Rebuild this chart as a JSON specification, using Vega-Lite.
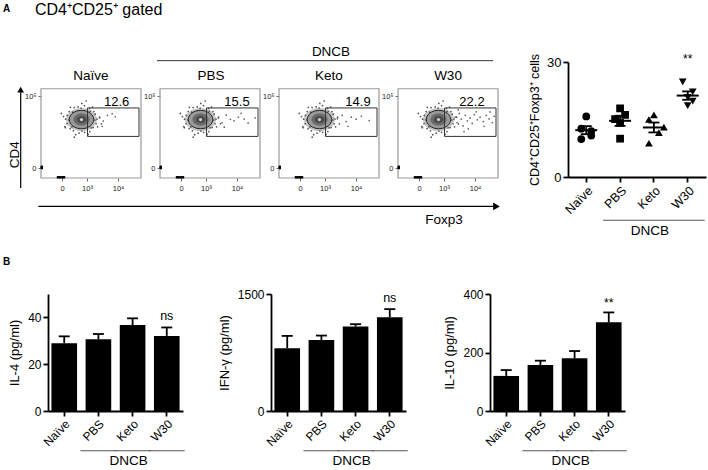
{
"$schema": "https://vega.github.io/schema/vega-lite/v6.json",
"padding": {"left": 3, "top": 2, "right": 2, "bottom": 2},
"background": "white",
"spacing": 232,
"bounds": "flush",
"datasets": {
"frame": [{"x0":0,"x1":100,"y0":0,"y1":100}],
"gatebox": [{"x0":46.5,"x1":98,"y0":46.6,"y1":78.5}],
"center": [{"x":40.5,"y":65.5}],
"cloud": [{"x":56,"y":66},{"x":54.2,"y":71.5},{"x":52.9,"y":74.4},{"x":48.6,"y":78},{"x":43.5,"y":81},{"x":37.2,"y":79.6},{"x":33.1,"y":78.9},{"x":28.2,"y":74.4},{"x":26.3,"y":70.1},{"x":24.6,"y":65.9},{"x":26.1,"y":60.9},{"x":29.1,"y":55.3},{"x":32.4,"y":52.9},{"x":38.1,"y":50.2},{"x":43.6,"y":51.2},{"x":48.9,"y":52.1},{"x":52.1,"y":56.5},{"x":55.1,"y":60.8},{"x":58.6,"y":68.2},{"x":51.6,"y":79.5},{"x":40.8,"y":83.6},{"x":29.3,"y":79.2},{"x":22.5,"y":68.9},{"x":24.4,"y":56.4},{"x":34.7,"y":48.6},{"x":47.1,"y":48.8},{"x":56.6,"y":57.3},{"x":53.9,"y":65},{"x":49.3,"y":74.8},{"x":40.1,"y":78.4},{"x":31.7,"y":73.8},{"x":27.9,"y":65.1},{"x":30.9,"y":57.2},{"x":40.9,"y":52.6},{"x":50.1,"y":56.3},{"x":20.3,"y":72.4},{"x":60.4,"y":60.7},{"x":45.2,"y":86.3},{"x":33.2,"y":45.8},{"x":23.8,"y":57.6}],
"gate": [{"p":"Naïve","x":58.5,"y":67.5},{"p":"Naïve","x":62.3,"y":63.8},{"p":"Naïve","x":66.4,"y":70.2},{"p":"Naïve","x":71.2,"y":72.1},{"p":"Naïve","x":74.3,"y":68.6},{"p":"Naïve","x":61.2,"y":57.9},
{"p":"PBS","x":58.3,"y":67.2},{"p":"PBS","x":62.1,"y":61.8},{"p":"PBS","x":66.2,"y":70.4},{"p":"PBS","x":70.4,"y":65.8},{"p":"PBS","x":74.1,"y":64.1},{"p":"PBS","x":78.3,"y":68.3},{"p":"PBS","x":84.2,"y":66.1},{"p":"PBS","x":88.1,"y":61.7},{"p":"PBS","x":95.2,"y":67.4},{"p":"PBS","x":64.3,"y":56.9},{"p":"PBS","x":81,"y":72.5},
{"p":"Keto","x":58.4,"y":66.3},{"p":"Keto","x":63.2,"y":70.1},{"p":"Keto","x":67.1,"y":63.2},{"p":"Keto","x":72.3,"y":68.2},{"p":"Keto","x":77.2,"y":65.9},{"p":"Keto","x":82.4,"y":69.1},{"p":"Keto","x":90.2,"y":64.3},{"p":"Keto","x":69,"y":58},
{"p":"W30","x":57.2,"y":68.1},{"p":"W30","x":59.1,"y":62.2},{"p":"W30","x":61.3,"y":72.4},{"p":"W30","x":63.2,"y":66.1},{"p":"W30","x":65.1,"y":58.3},{"p":"W30","x":67.3,"y":70.2},{"p":"W30","x":69.4,"y":64.1},{"p":"W30","x":72.1,"y":67.3},{"p":"W30","x":74.2,"y":61.2},{"p":"W30","x":76.3,"y":71.1},{"p":"W30","x":79.2,"y":65.2},{"p":"W30","x":82.1,"y":68.3},{"p":"W30","x":85.3,"y":63.2},{"p":"W30","x":88.2,"y":70.1},{"p":"W30","x":91.1,"y":66.2},{"p":"W30","x":94.3,"y":62.1},{"p":"W30","x":96.2,"y":69.2},{"p":"W30","x":70.3,"y":55.1},{"p":"W30","x":60.2,"y":76.3},{"p":"W30","x":78.1,"y":74.2},{"p":"W30","x":86,"y":58},{"p":"W30","x":92,"y":74},{"p":"W30","x":66,"y":52}],
"pile": [{"x":17,"y":0.8},{"x":19,"y":0.8},{"x":21,"y":0.8},{"x":23,"y":0.8},{"x":0.8,"y":11.2},{"x":0.8,"y":12.5}],
"lines": [{"id":"cd4","x":-20.3,"y":-11.2,"y2":96},{"id":"fox","x":-2.7,"x2":453,"y":-31.8},{"id":"dncb","x":-122,"x2":214,"y":131.5}],
"heads": [{"id":"cd4","x":-20.3,"y":99},{"id":"fox","x":455.5,"y":-31.8}],
"scatter": [{"g":"Naïve","v":15.8,"s":"C"},{"g":"Naïve","v":12.6,"s":"L"},{"g":"Naïve","v":12.0,"s":"R"},{"g":"Naïve","v":10.8,"s":"R"},{"g":"Naïve","v":9.9,"s":"L"},
{"g":"PBS","v":17.9,"s":"C"},{"g":"PBS","v":16.2,"s":"R"},{"g":"PBS","v":15.1,"s":"L"},{"g":"PBS","v":14.1,"s":"C"},{"g":"PBS","v":10.0,"s":"C"},
{"g":"Keto","v":16.2,"s":"C"},{"g":"Keto","v":15.0,"s":"L"},{"g":"Keto","v":13.0,"s":"RR"},{"g":"Keto","v":11.6,"s":"R"},{"g":"Keto","v":8.8,"s":"L"},
{"g":"W30","v":24.8,"s":"L"},{"g":"W30","v":22.2,"s":"R"},{"g":"W30","v":20.8,"s":"C"},{"g":"W30","v":19.8,"s":"R"},{"g":"W30","v":18.6,"s":"C"}],
"scatsum": [{"g":"Naïve","m":12.22,"lo":11.17,"hi":13.27},{"g":"PBS","m":14.66,"lo":13.34,"hi":15.98},{"g":"Keto","m":12.92,"lo":11.63,"hi":14.21},{"g":"W30","m":21.24,"lo":20.15,"hi":22.33}]
},
"vconcat": [
{"hconcat": [
{"width":100,"height":116,"data":{"name":"frame"},
"layer":[
{"mark":{"type":"rect","fillOpacity":0,"stroke":"#9a9a9a","strokeWidth":1.2},
 "encoding":{"x":{"field":"x0","type":"quantitative","scale":{"domain":[0,100],"nice":false,"zero":false},"axis":{"title":null,"domain":false,"values":[21,46,77],"labelExpr":"datum.value == 21 ? '0' : datum.value == 46 ? '10³' : '10⁴'","labelOverlap":false,"labelSeparation":-100,"tickSize":3,"tickWidth":0.8,"tickColor":"#444","labelFontSize":7.5,"labelPadding":3,"labelColor":"#222"}},
 "x2":{"field":"x1"},
 "y":{"field":"y0","type":"quantitative","scale":{"domain":[0,130],"nice":false,"zero":false},"axis":{"title":null,"domain":false,"values":[11.2,46.6,68.7,91.5],"labelExpr":"datum.value == 91.5 ? '10⁵' : datum.value == 68.7 ? '10⁴' : datum.value == 46.6 ? '10³' : '0'","labelOverlap":false,"labelSeparation":-100,"tickSize":3,"tickWidth":0.8,"tickColor":"#444","labelFontSize":7.5,"labelPadding":2,"labelColor":"#222"}},
 "y2":{"field":"y1"}}},
{"data":{"name":"center"},"mark":{"type":"point","shape":"M-1,0A1,0.75,0,1,1,1,0A1,0.75,0,1,1,-1,0Z","size":960,"filled":true,"fill":"#c4c4c4","strokeWidth":0,"opacity":1},"encoding":{"x":{"field":"x","type":"quantitative"},"y":{"field":"y","type":"quantitative"}}},
{"data":{"name":"cloud"},"mark":{"type":"circle","size":3,"color":"#555","opacity":1},"encoding":{"x":{"field":"x","type":"quantitative"},"y":{"field":"y","type":"quantitative"}}},
{"data":{"name":"center"},"mark":{"type":"point","shape":"M-1,0A1,0.75,0,1,1,1,0A1,0.75,0,1,1,-1,0Z","size":600,"filled":true,"fill":"#999","stroke":"#222","strokeWidth":1,"opacity":1},"encoding":{"x":{"field":"x","type":"quantitative"},"y":{"field":"y","type":"quantitative"}}},
{"data":{"name":"center"},"mark":{"type":"point","shape":"M-1,0A1,0.75,0,1,1,1,0A1,0.75,0,1,1,-1,0Z","size":260,"filled":true,"fill":"#6a6a6a","strokeWidth":0,"opacity":1},"encoding":{"x":{"field":"x","type":"quantitative"},"y":{"field":"y","type":"quantitative"}}},
{"data":{"name":"center"},"mark":{"type":"point","shape":"M-1,0A1,0.75,0,1,1,1,0A1,0.75,0,1,1,-1,0Z","size":90,"filled":true,"fill":"#4a4a4a","strokeWidth":0,"opacity":1},"encoding":{"x":{"field":"x","type":"quantitative"},"y":{"field":"y","type":"quantitative"}}},
{"data":{"name":"center"},"mark":{"type":"circle","size":10,"color":"#cfcfcf","opacity":1},"encoding":{"x":{"field":"x","type":"quantitative"},"y":{"field":"y","type":"quantitative"}}},
{"data":{"name":"gate"},"transform":[{"filter":"datum.p == 'Naïve'"}],"mark":{"type":"circle","size":3,"color":"#666","opacity":1},"encoding":{"x":{"field":"x","type":"quantitative"},"y":{"field":"y","type":"quantitative"}}},
{"data":{"name":"pile"},"mark":{"type":"square","size":6,"color":"#000","opacity":1},"encoding":{"x":{"field":"x","type":"quantitative"},"y":{"field":"y","type":"quantitative"}}},
{"data":{"name":"gatebox"},"mark":{"type":"rect","fillOpacity":0,"stroke":"#333","strokeWidth":1},"encoding":{"x":{"field":"x0","type":"quantitative"},"x2":{"field":"x1"},"y":{"field":"y0","type":"quantitative"},"y2":{"field":"y1"}}},
{"mark":{"type":"text","fontSize":13,"align":"center","baseline":"alphabetic","color":"#000"},"encoding":{"x":{"datum":75.7,"type":"quantitative"},"y":{"datum":81,"type":"quantitative"},"text":{"value":"12.6"}}},
{"mark":{"type":"text","fontSize":13.5,"align":"center","baseline":"middle","color":"#000"},"encoding":{"x":{"datum":50,"type":"quantitative"},"y":{"datum":113.9,"type":"quantitative"},"text":{"value":"Naïve"}}},
{"data":{"name":"lines"},"transform":[{"filter":"datum.id == 'cd4'"}],"mark":{"type":"rule","color":"#000","strokeWidth":1.2},"encoding":{"x":{"field":"x","type":"quantitative"},"y":{"field":"y","type":"quantitative"},"y2":{"field":"y2"}}},
{"data":{"name":"lines"},"transform":[{"filter":"datum.id == 'fox'"}],"mark":{"type":"rule","color":"#000","strokeWidth":1.2},"encoding":{"x":{"field":"x","type":"quantitative"},"x2":{"field":"x2"},"y":{"field":"y","type":"quantitative"}}},
{"data":{"name":"heads"},"transform":[{"filter":"datum.id == 'cd4'"}],"mark":{"type":"point","shape":"triangle-up","filled":true,"size":45,"color":"#000","opacity":1},"encoding":{"x":{"field":"x","type":"quantitative"},"y":{"field":"y","type":"quantitative"}}},
{"data":{"name":"heads"},"transform":[{"filter":"datum.id == 'fox'"}],"mark":{"type":"point","shape":"triangle-right","filled":true,"size":60,"color":"#000","opacity":1},"encoding":{"x":{"field":"x","type":"quantitative"},"y":{"field":"y","type":"quantitative"}}},
{"mark":{"type":"text","fontSize":13.5,"angle":270,"align":"center","baseline":"middle","color":"#000"},"encoding":{"x":{"datum":-26.5,"type":"quantitative"},"y":{"datum":26.1,"type":"quantitative"},"text":{"value":"CD4"}}},
{"mark":{"type":"text","fontSize":13.5,"align":"center","baseline":"middle","color":"#000"},"encoding":{"x":{"datum":403,"type":"quantitative"},"y":{"datum":-46.7,"type":"quantitative"},"text":{"value":"Foxp3"}}},
{"mark":{"type":"text","fontSize":10,"fontWeight":"bold","align":"left","baseline":"top","color":"#000"},"encoding":{"x":{"datum":-38,"type":"quantitative"},"y":{"datum":194.9,"type":"quantitative"},"text":{"value":"A"}}},
{"mark":{"type":"text","fontSize":16,"align":"left","baseline":"top","color":"#000"},"encoding":{"x":{"datum":-6,"type":"quantitative"},"y":{"datum":197.2,"type":"quantitative"},"text":{"value":"CD4⁺CD25⁺ gated"}}},
{"mark":{"type":"text","fontSize":10,"fontWeight":"bold","align":"left","baseline":"top","color":"#000"},"encoding":{"x":{"datum":-38,"type":"quantitative"},"y":{"datum":-88.5,"type":"quantitative"},"text":{"value":"B"}}}
]},
{"width":19,"height":116,"data":{"values":[{}]},"mark":{"type":"rule","opacity":0},"encoding":{}},
{"width":100,"height":116,"data":{"name":"frame"},
"layer":[
{"mark":{"type":"rect","fillOpacity":0,"stroke":"#9a9a9a","strokeWidth":1.2},
 "encoding":{"x":{"field":"x0","type":"quantitative","scale":{"domain":[0,100],"nice":false,"zero":false},"axis":{"title":null,"domain":false,"values":[21,46,77],"labelExpr":"datum.value == 21 ? '0' : datum.value == 46 ? '10³' : '10⁴'","labelOverlap":false,"labelSeparation":-100,"tickSize":3,"tickWidth":0.8,"tickColor":"#444","labelFontSize":7.5,"labelPadding":3,"labelColor":"#222"}},
 "x2":{"field":"x1"},
 "y":{"field":"y0","type":"quantitative","scale":{"domain":[0,130],"nice":false,"zero":false},"axis":{"title":null,"domain":false,"values":[11.2,46.6,68.7,91.5],"labelExpr":"datum.value == 91.5 ? '10⁵' : datum.value == 68.7 ? '10⁴' : datum.value == 46.6 ? '10³' : '0'","labelOverlap":false,"labelSeparation":-100,"tickSize":3,"tickWidth":0.8,"tickColor":"#444","labelFontSize":7.5,"labelPadding":2,"labelColor":"#222"}},
 "y2":{"field":"y1"}}},
{"data":{"name":"center"},"mark":{"type":"point","shape":"M-1,0A1,0.75,0,1,1,1,0A1,0.75,0,1,1,-1,0Z","size":960,"filled":true,"fill":"#c4c4c4","strokeWidth":0,"opacity":1},"encoding":{"x":{"field":"x","type":"quantitative"},"y":{"field":"y","type":"quantitative"}}},
{"data":{"name":"cloud"},"mark":{"type":"circle","size":3,"color":"#555","opacity":1},"encoding":{"x":{"field":"x","type":"quantitative"},"y":{"field":"y","type":"quantitative"}}},
{"data":{"name":"center"},"mark":{"type":"point","shape":"M-1,0A1,0.75,0,1,1,1,0A1,0.75,0,1,1,-1,0Z","size":600,"filled":true,"fill":"#999","stroke":"#222","strokeWidth":1,"opacity":1},"encoding":{"x":{"field":"x","type":"quantitative"},"y":{"field":"y","type":"quantitative"}}},
{"data":{"name":"center"},"mark":{"type":"point","shape":"M-1,0A1,0.75,0,1,1,1,0A1,0.75,0,1,1,-1,0Z","size":260,"filled":true,"fill":"#6a6a6a","strokeWidth":0,"opacity":1},"encoding":{"x":{"field":"x","type":"quantitative"},"y":{"field":"y","type":"quantitative"}}},
{"data":{"name":"center"},"mark":{"type":"point","shape":"M-1,0A1,0.75,0,1,1,1,0A1,0.75,0,1,1,-1,0Z","size":90,"filled":true,"fill":"#4a4a4a","strokeWidth":0,"opacity":1},"encoding":{"x":{"field":"x","type":"quantitative"},"y":{"field":"y","type":"quantitative"}}},
{"data":{"name":"center"},"mark":{"type":"circle","size":10,"color":"#cfcfcf","opacity":1},"encoding":{"x":{"field":"x","type":"quantitative"},"y":{"field":"y","type":"quantitative"}}},
{"data":{"name":"gate"},"transform":[{"filter":"datum.p == 'PBS'"}],"mark":{"type":"circle","size":3,"color":"#666","opacity":1},"encoding":{"x":{"field":"x","type":"quantitative"},"y":{"field":"y","type":"quantitative"}}},
{"data":{"name":"pile"},"mark":{"type":"square","size":6,"color":"#000","opacity":1},"encoding":{"x":{"field":"x","type":"quantitative"},"y":{"field":"y","type":"quantitative"}}},
{"data":{"name":"gatebox"},"mark":{"type":"rect","fillOpacity":0,"stroke":"#333","strokeWidth":1},"encoding":{"x":{"field":"x0","type":"quantitative"},"x2":{"field":"x1"},"y":{"field":"y0","type":"quantitative"},"y2":{"field":"y1"}}},
{"mark":{"type":"text","fontSize":13,"align":"center","baseline":"alphabetic","color":"#000"},"encoding":{"x":{"datum":77,"type":"quantitative"},"y":{"datum":81,"type":"quantitative"},"text":{"value":"15.5"}}},
{"mark":{"type":"text","fontSize":13.5,"align":"center","baseline":"middle","color":"#000"},"encoding":{"x":{"datum":51,"type":"quantitative"},"y":{"datum":113.9,"type":"quantitative"},"text":{"value":"PBS"}}}
]},
{"width":19,"height":116,"data":{"values":[{}]},"mark":{"type":"rule","opacity":0},"encoding":{}},
{"width":100,"height":116,"data":{"name":"frame"},
"layer":[
{"mark":{"type":"rect","fillOpacity":0,"stroke":"#9a9a9a","strokeWidth":1.2},
 "encoding":{"x":{"field":"x0","type":"quantitative","scale":{"domain":[0,100],"nice":false,"zero":false},"axis":{"title":null,"domain":false,"values":[21,46,77],"labelExpr":"datum.value == 21 ? '0' : datum.value == 46 ? '10³' : '10⁴'","labelOverlap":false,"labelSeparation":-100,"tickSize":3,"tickWidth":0.8,"tickColor":"#444","labelFontSize":7.5,"labelPadding":3,"labelColor":"#222"}},
 "x2":{"field":"x1"},
 "y":{"field":"y0","type":"quantitative","scale":{"domain":[0,130],"nice":false,"zero":false},"axis":{"title":null,"domain":false,"values":[11.2,46.6,68.7,91.5],"labelExpr":"datum.value == 91.5 ? '10⁵' : datum.value == 68.7 ? '10⁴' : datum.value == 46.6 ? '10³' : '0'","labelOverlap":false,"labelSeparation":-100,"tickSize":3,"tickWidth":0.8,"tickColor":"#444","labelFontSize":7.5,"labelPadding":2,"labelColor":"#222"}},
 "y2":{"field":"y1"}}},
{"data":{"name":"center"},"mark":{"type":"point","shape":"M-1,0A1,0.75,0,1,1,1,0A1,0.75,0,1,1,-1,0Z","size":960,"filled":true,"fill":"#c4c4c4","strokeWidth":0,"opacity":1},"encoding":{"x":{"field":"x","type":"quantitative"},"y":{"field":"y","type":"quantitative"}}},
{"data":{"name":"cloud"},"mark":{"type":"circle","size":3,"color":"#555","opacity":1},"encoding":{"x":{"field":"x","type":"quantitative"},"y":{"field":"y","type":"quantitative"}}},
{"data":{"name":"center"},"mark":{"type":"point","shape":"M-1,0A1,0.75,0,1,1,1,0A1,0.75,0,1,1,-1,0Z","size":600,"filled":true,"fill":"#999","stroke":"#222","strokeWidth":1,"opacity":1},"encoding":{"x":{"field":"x","type":"quantitative"},"y":{"field":"y","type":"quantitative"}}},
{"data":{"name":"center"},"mark":{"type":"point","shape":"M-1,0A1,0.75,0,1,1,1,0A1,0.75,0,1,1,-1,0Z","size":260,"filled":true,"fill":"#6a6a6a","strokeWidth":0,"opacity":1},"encoding":{"x":{"field":"x","type":"quantitative"},"y":{"field":"y","type":"quantitative"}}},
{"data":{"name":"center"},"mark":{"type":"point","shape":"M-1,0A1,0.75,0,1,1,1,0A1,0.75,0,1,1,-1,0Z","size":90,"filled":true,"fill":"#4a4a4a","strokeWidth":0,"opacity":1},"encoding":{"x":{"field":"x","type":"quantitative"},"y":{"field":"y","type":"quantitative"}}},
{"data":{"name":"center"},"mark":{"type":"circle","size":10,"color":"#cfcfcf","opacity":1},"encoding":{"x":{"field":"x","type":"quantitative"},"y":{"field":"y","type":"quantitative"}}},
{"data":{"name":"gate"},"transform":[{"filter":"datum.p == 'Keto'"}],"mark":{"type":"circle","size":3,"color":"#666","opacity":1},"encoding":{"x":{"field":"x","type":"quantitative"},"y":{"field":"y","type":"quantitative"}}},
{"data":{"name":"pile"},"mark":{"type":"square","size":6,"color":"#000","opacity":1},"encoding":{"x":{"field":"x","type":"quantitative"},"y":{"field":"y","type":"quantitative"}}},
{"data":{"name":"gatebox"},"mark":{"type":"rect","fillOpacity":0,"stroke":"#333","strokeWidth":1},"encoding":{"x":{"field":"x0","type":"quantitative"},"x2":{"field":"x1"},"y":{"field":"y0","type":"quantitative"},"y2":{"field":"y1"}}},
{"mark":{"type":"text","fontSize":13,"align":"center","baseline":"alphabetic","color":"#000"},"encoding":{"x":{"datum":79,"type":"quantitative"},"y":{"datum":81,"type":"quantitative"},"text":{"value":"14.9"}}},
{"mark":{"type":"text","fontSize":13.5,"align":"center","baseline":"middle","color":"#000"},"encoding":{"x":{"datum":50,"type":"quantitative"},"y":{"datum":113.9,"type":"quantitative"},"text":{"value":"Keto"}}},
{"data":{"name":"lines"},"transform":[{"filter":"datum.id == 'dncb'"}],"mark":{"type":"rule","color":"#333","strokeWidth":1},"encoding":{"x":{"field":"x","type":"quantitative"},"x2":{"field":"x2"},"y":{"field":"y","type":"quantitative"}}},
{"mark":{"type":"text","fontSize":13.5,"align":"center","baseline":"middle","color":"#000"},"encoding":{"x":{"datum":52,"type":"quantitative"},"y":{"datum":141.5,"type":"quantitative"},"text":{"value":"DNCB"}}}
]},
{"width":19,"height":116,"data":{"values":[{}]},"mark":{"type":"rule","opacity":0},"encoding":{}},
{"width":100,"height":116,"data":{"name":"frame"},
"layer":[
{"mark":{"type":"rect","fillOpacity":0,"stroke":"#9a9a9a","strokeWidth":1.2},
 "encoding":{"x":{"field":"x0","type":"quantitative","scale":{"domain":[0,100],"nice":false,"zero":false},"axis":{"title":null,"domain":false,"values":[21,46,77],"labelExpr":"datum.value == 21 ? '0' : datum.value == 46 ? '10³' : '10⁴'","labelOverlap":false,"labelSeparation":-100,"tickSize":3,"tickWidth":0.8,"tickColor":"#444","labelFontSize":7.5,"labelPadding":3,"labelColor":"#222"}},
 "x2":{"field":"x1"},
 "y":{"field":"y0","type":"quantitative","scale":{"domain":[0,130],"nice":false,"zero":false},"axis":{"title":null,"domain":false,"values":[11.2,46.6,68.7,91.5],"labelExpr":"datum.value == 91.5 ? '10⁵' : datum.value == 68.7 ? '10⁴' : datum.value == 46.6 ? '10³' : '0'","labelOverlap":false,"labelSeparation":-100,"tickSize":3,"tickWidth":0.8,"tickColor":"#444","labelFontSize":7.5,"labelPadding":2,"labelColor":"#222"}},
 "y2":{"field":"y1"}}},
{"data":{"name":"center"},"mark":{"type":"point","shape":"M-1,0A1,0.75,0,1,1,1,0A1,0.75,0,1,1,-1,0Z","size":960,"filled":true,"fill":"#c4c4c4","strokeWidth":0,"opacity":1},"encoding":{"x":{"field":"x","type":"quantitative"},"y":{"field":"y","type":"quantitative"}}},
{"data":{"name":"cloud"},"mark":{"type":"circle","size":3,"color":"#555","opacity":1},"encoding":{"x":{"field":"x","type":"quantitative"},"y":{"field":"y","type":"quantitative"}}},
{"data":{"name":"center"},"mark":{"type":"point","shape":"M-1,0A1,0.75,0,1,1,1,0A1,0.75,0,1,1,-1,0Z","size":600,"filled":true,"fill":"#999","stroke":"#222","strokeWidth":1,"opacity":1},"encoding":{"x":{"field":"x","type":"quantitative"},"y":{"field":"y","type":"quantitative"}}},
{"data":{"name":"center"},"mark":{"type":"point","shape":"M-1,0A1,0.75,0,1,1,1,0A1,0.75,0,1,1,-1,0Z","size":260,"filled":true,"fill":"#6a6a6a","strokeWidth":0,"opacity":1},"encoding":{"x":{"field":"x","type":"quantitative"},"y":{"field":"y","type":"quantitative"}}},
{"data":{"name":"center"},"mark":{"type":"point","shape":"M-1,0A1,0.75,0,1,1,1,0A1,0.75,0,1,1,-1,0Z","size":90,"filled":true,"fill":"#4a4a4a","strokeWidth":0,"opacity":1},"encoding":{"x":{"field":"x","type":"quantitative"},"y":{"field":"y","type":"quantitative"}}},
{"data":{"name":"center"},"mark":{"type":"circle","size":10,"color":"#cfcfcf","opacity":1},"encoding":{"x":{"field":"x","type":"quantitative"},"y":{"field":"y","type":"quantitative"}}},
{"data":{"name":"gate"},"transform":[{"filter":"datum.p == 'W30'"}],"mark":{"type":"circle","size":3,"color":"#666","opacity":1},"encoding":{"x":{"field":"x","type":"quantitative"},"y":{"field":"y","type":"quantitative"}}},
{"data":{"name":"pile"},"mark":{"type":"square","size":6,"color":"#000","opacity":1},"encoding":{"x":{"field":"x","type":"quantitative"},"y":{"field":"y","type":"quantitative"}}},
{"data":{"name":"gatebox"},"mark":{"type":"rect","fillOpacity":0,"stroke":"#333","strokeWidth":1},"encoding":{"x":{"field":"x0","type":"quantitative"},"x2":{"field":"x1"},"y":{"field":"y0","type":"quantitative"},"y2":{"field":"y1"}}},
{"mark":{"type":"text","fontSize":13,"align":"center","baseline":"alphabetic","color":"#000"},"encoding":{"x":{"datum":74,"type":"quantitative"},"y":{"datum":81,"type":"quantitative"},"text":{"value":"22.2"}}},
{"mark":{"type":"text","fontSize":13.5,"align":"center","baseline":"middle","color":"#000"},"encoding":{"x":{"datum":50,"type":"quantitative"},"y":{"datum":113.9,"type":"quantitative"},"text":{"value":"W30"}}}
]},
{"width":70,"height":116,"data":{"values":[{}]},"mark":{"type":"rule","opacity":0},"encoding":{}},
{"width":138,"height":115,"data":{"name":"scatter"},
"layer":[
{"transform":[{"filter":"datum.s == 'C'"}],"mark":{"type":"point","filled":true,"color":"#000","size":60,"opacity":1},
 "encoding":{
 "x":{"field":"g","type":"nominal","sort":null,"scale":{"domain":["Naïve","PBS","Keto","W30"],"paddingInner":0,"paddingOuter":0.04},"axis":{"title":null,"labelAngle":-45,"labelFontSize":12.5,"labelOverlap":false}},
 "y":{"field":"v","type":"quantitative","scale":{"domain":[0,30],"nice":false},"axis":{"values":[0,10,20,30],"labelOverlap":false,"labelSeparation":-100,"title":"CD4⁺CD25⁺Foxp3⁺ cells","titleFontSize":12.5,"labelFontSize":13,"titlePadding":5}},
 "shape":{"field":"g","type":"nominal","scale":{"domain":["Naïve","PBS","Keto","W30"],"range":["circle","square","triangle-up","triangle-down"]},"legend":null}}},
{"transform":[{"filter":"datum.s == 'L'"}],"mark":{"type":"point","filled":true,"color":"#000","size":60,"opacity":1,"xOffset":-5},
 "encoding":{"x":{"field":"g","type":"nominal"},"y":{"field":"v","type":"quantitative"},"shape":{"field":"g","type":"nominal","legend":null}}},
{"transform":[{"filter":"datum.s == 'R'"}],"mark":{"type":"point","filled":true,"color":"#000","size":60,"opacity":1,"xOffset":5},
 "encoding":{"x":{"field":"g","type":"nominal"},"y":{"field":"v","type":"quantitative"},"shape":{"field":"g","type":"nominal","legend":null}}},
{"transform":[{"filter":"datum.s == 'RR'"}],"mark":{"type":"point","filled":true,"color":"#000","size":60,"opacity":1,"xOffset":10},
 "encoding":{"x":{"field":"g","type":"nominal"},"y":{"field":"v","type":"quantitative"},"shape":{"field":"g","type":"nominal","legend":null}}},
{"data":{"name":"scatsum"},"mark":{"type":"tick","color":"#000","size":22,"thickness":2,"opacity":1},
 "encoding":{"x":{"field":"g","type":"nominal"},"y":{"field":"m","type":"quantitative"}}},
{"data":{"name":"scatsum"},"mark":{"type":"rule","color":"#000","strokeWidth":1.8},
 "encoding":{"x":{"field":"g","type":"nominal"},"y":{"field":"lo","type":"quantitative"},"y2":{"field":"hi"}}},
{"data":{"name":"scatsum"},"mark":{"type":"tick","color":"#000","size":11,"thickness":1.8,"opacity":1},
 "encoding":{"x":{"field":"g","type":"nominal"},"y":{"field":"lo","type":"quantitative"}}},
{"data":{"name":"scatsum"},"mark":{"type":"tick","color":"#000","size":11,"thickness":1.8,"opacity":1},
 "encoding":{"x":{"field":"g","type":"nominal"},"y":{"field":"hi","type":"quantitative"}}},
{"data":{"values":[{"g":"W30","y":29.7,"t":"**"}]},"mark":{"type":"text","fontSize":12,"baseline":"alphabetic","color":"#000"},"encoding":{"x":{"field":"g","type":"nominal"},"y":{"field":"y","type":"quantitative"},"text":{"field":"t"}}},
{"data":{"values":[{"g":"PBS","y":-11.3},{"g":"Keto","y":-11.3},{"g":"W30","y":-11.3}]},"mark":{"type":"tick","color":"#555","size":34,"thickness":1,"opacity":1},"encoding":{"x":{"field":"g","type":"nominal"},"y":{"field":"y","type":"quantitative"}}},
{"data":{"values":[{"g":"Keto","y":-14,"t":"DNCB"}]},"mark":{"type":"text","fontSize":13.5,"baseline":"middle","dx":-4,"color":"#000"},"encoding":{"x":{"field":"g","type":"nominal"},"y":{"field":"y","type":"quantitative"},"text":{"field":"t"}}}
]}
], "spacing": 0, "bounds": "flush"},
{"hconcat": [
{"width":7,"height":117,"data":{"values":[{}]},"mark":{"type":"rule","opacity":0},"encoding":{}},
{"width":135,"height":117,
 "data":{"values":[{"g":"Naïve","m":29.0,"u":31.9},{"g":"PBS","m":30.7,"u":32.9},{"g":"Keto","m":36.7,"u":39.6},{"g":"W30","m":32.1,"u":35.7}]},
 "layer":[
 {"mark":{"type":"bar","color":"#000"},"encoding":{"x":{"field":"g","type":"nominal","sort":null,"scale":{"domain":["Naïve","PBS","Keto","W30"],"paddingInner":0.25,"paddingOuter":0.1},"axis":{"title":null,"labelAngle":-45,"labelOverlap":false}},"y":{"field":"m","type":"quantitative","scale":{"domain":[0,50],"nice":false},"axis":{"values":[0,10,20,30,40,50],"format":"d","labelOverlap":false,"labelSeparation":-100,"title":"IL-4 (pg/ml)"}}}},
 {"mark":{"type":"rule","color":"#000","strokeWidth":1.8},"encoding":{"x":{"field":"g","type":"nominal"},"y":{"field":"m","type":"quantitative"},"y2":{"field":"u"}}},
 {"mark":{"type":"tick","color":"#000","size":11,"thickness":1.8,"opacity":1},"encoding":{"x":{"field":"g","type":"nominal"},"y":{"field":"u","type":"quantitative"}}},
 {"data":{"values":[{"g":"W30","y":38.9,"t":"ns"}]},"mark":{"type":"text","fontSize":12.5,"baseline":"alphabetic","color":"#000"},"encoding":{"x":{"field":"g","type":"nominal"},"y":{"field":"y","type":"quantitative"},"text":{"field":"t"}}},
 {"data":{"values":[{"g":"PBS","y":-17},{"g":"Keto","y":-17},{"g":"W30","y":-17}]},"mark":{"type":"tick","color":"#555","size":36,"thickness":1,"opacity":1},"encoding":{"x":{"field":"g","type":"nominal"},"y":{"field":"y","type":"quantitative"}}},
 {"data":{"values":[{"g":"Keto","y":-21.4,"t":"DNCB"}]},"mark":{"type":"text","fontSize":13.5,"baseline":"middle","dx":-4,"color":"#000"},"encoding":{"x":{"field":"g","type":"nominal"},"y":{"field":"y","type":"quantitative"},"text":{"field":"t"}}}
 ]},
{"width":88,"height":117,"data":{"values":[{}]},"mark":{"type":"rule","opacity":0},"encoding":{}},
{"width":135,"height":117,
 "data":{"values":[{"g":"Naïve","m":804,"u":963},{"g":"PBS","m":911,"u":967},{"g":"Keto","m":1083,"u":1113},{"g":"W30","m":1203,"u":1306}]},
 "layer":[
 {"mark":{"type":"bar","color":"#000"},"encoding":{"x":{"field":"g","type":"nominal","sort":null,"scale":{"domain":["Naïve","PBS","Keto","W30"],"paddingInner":0.25,"paddingOuter":0.1},"axis":{"title":null,"labelAngle":-45,"labelOverlap":false}},"y":{"field":"m","type":"quantitative","scale":{"domain":[0,1500],"nice":false},"axis":{"values":[0,500,1000,1500],"format":"d","labelOverlap":false,"labelSeparation":-100,"title":"IFN-γ (pg/ml)"}}}},
 {"mark":{"type":"rule","color":"#000","strokeWidth":1.8},"encoding":{"x":{"field":"g","type":"nominal"},"y":{"field":"m","type":"quantitative"},"y2":{"field":"u"}}},
 {"mark":{"type":"tick","color":"#000","size":11,"thickness":1.8,"opacity":1},"encoding":{"x":{"field":"g","type":"nominal"},"y":{"field":"u","type":"quantitative"}}},
 {"data":{"values":[{"g":"W30","y":1397,"t":"ns"}]},"mark":{"type":"text","fontSize":12.5,"baseline":"alphabetic","color":"#000"},"encoding":{"x":{"field":"g","type":"nominal"},"y":{"field":"y","type":"quantitative"},"text":{"field":"t"}}},
 {"data":{"values":[{"g":"PBS","y":-509},{"g":"Keto","y":-509},{"g":"W30","y":-509}]},"mark":{"type":"tick","color":"#555","size":36,"thickness":1,"opacity":1},"encoding":{"x":{"field":"g","type":"nominal"},"y":{"field":"y","type":"quantitative"}}},
 {"data":{"values":[{"g":"Keto","y":-641,"t":"DNCB"}]},"mark":{"type":"text","fontSize":13.5,"baseline":"middle","dx":-4,"color":"#000"},"encoding":{"x":{"field":"g","type":"nominal"},"y":{"field":"y","type":"quantitative"},"text":{"field":"t"}}}
 ]},
{"width":84,"height":117,"data":{"values":[{}]},"mark":{"type":"rule","opacity":0},"encoding":{}},
{"width":135,"height":117,
 "data":{"values":[{"g":"Naïve","m":120,"u":140},{"g":"PBS","m":157,"u":172},{"g":"Keto","m":180,"u":205},{"g":"W30","m":303,"u":337}]},
 "layer":[
 {"mark":{"type":"bar","color":"#000"},"encoding":{"x":{"field":"g","type":"nominal","sort":null,"scale":{"domain":["Naïve","PBS","Keto","W30"],"paddingInner":0.25,"paddingOuter":0.1},"axis":{"title":null,"labelAngle":-45,"labelOverlap":false}},"y":{"field":"m","type":"quantitative","scale":{"domain":[0,400],"nice":false},"axis":{"values":[0,100,200,300,400],"format":"d","labelOverlap":false,"labelSeparation":-100,"title":"IL-10 (pg/ml)"}}}},
 {"mark":{"type":"rule","color":"#000","strokeWidth":1.8},"encoding":{"x":{"field":"g","type":"nominal"},"y":{"field":"m","type":"quantitative"},"y2":{"field":"u"}}},
 {"mark":{"type":"tick","color":"#000","size":11,"thickness":1.8,"opacity":1},"encoding":{"x":{"field":"g","type":"nominal"},"y":{"field":"u","type":"quantitative"}}},
 {"data":{"values":[{"g":"W30","y":356,"t":"**"}]},"mark":{"type":"text","fontSize":12,"baseline":"alphabetic","color":"#000"},"encoding":{"x":{"field":"g","type":"nominal"},"y":{"field":"y","type":"quantitative"},"text":{"field":"t"}}},
 {"data":{"values":[{"g":"PBS","y":-135.7},{"g":"Keto","y":-135.7},{"g":"W30","y":-135.7}]},"mark":{"type":"tick","color":"#555","size":36,"thickness":1,"opacity":1},"encoding":{"x":{"field":"g","type":"nominal"},"y":{"field":"y","type":"quantitative"}}},
 {"data":{"values":[{"g":"Keto","y":-171,"t":"DNCB"}]},"mark":{"type":"text","fontSize":13.5,"baseline":"middle","dx":-4,"color":"#000"},"encoding":{"x":{"field":"g","type":"nominal"},"y":{"field":"y","type":"quantitative"},"text":{"field":"t"}}}
 ]}
], "spacing": 0, "bounds": "flush"}
],
"config": {
 "font": "Liberation Sans",
 "view": {"stroke": null},
 "axis": {"grid": false, "domainColor": "#000", "domainWidth": 1.8, "tickColor": "#000", "tickWidth": 1.8, "tickSize": 5, "labelColor": "#000", "labelFontSize": 12, "labelPadding": 2, "labelOverlap": false, "labelSeparation": -100, "titleColor": "#000", "titleFontSize": 13, "titleFontWeight": "normal", "titlePadding": 6}
}
}
